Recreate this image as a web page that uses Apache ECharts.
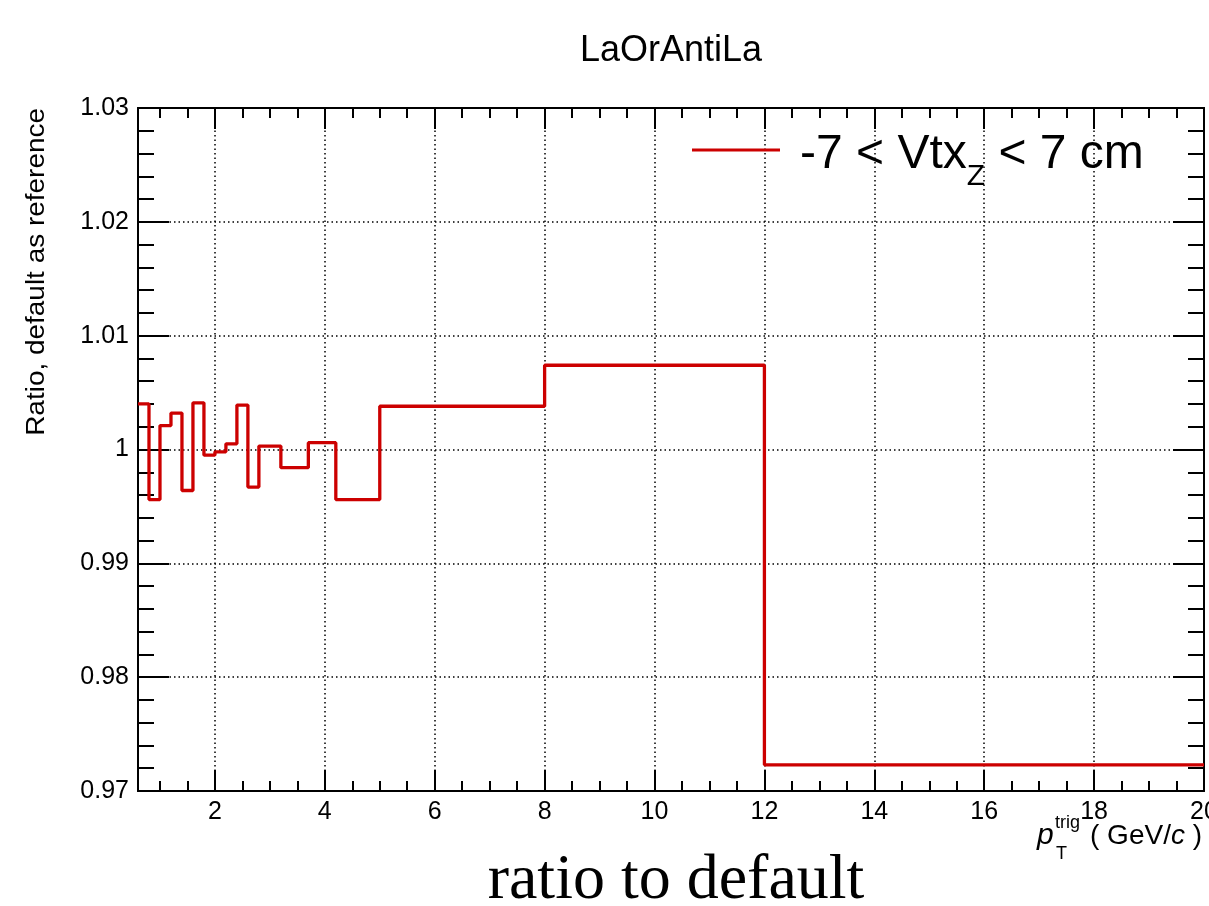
<!DOCTYPE html>
<html>
<head>
<meta charset="utf-8">
<script src="https://cdn.jsdelivr.net/npm/echarts@6/dist/echarts.min.js"></script>
<style>html,body{margin:0;padding:0;background:#fff}#c{width:1209px;height:906px}</style>
</head>
<body>
<div id="c"></div>
<script>
// ---- data ----
var binEdges = [0.6, 0.8, 1.0, 1.2, 1.4, 1.6, 1.8, 2.0, 2.2, 2.4, 2.6, 2.8, 3.2, 3.7, 4.2, 5, 8, 12, 20];
var ratioValues = [1.0040, 0.9956, 1.0021, 1.0032, 0.9964, 1.0041, 0.9995, 0.9998, 1.0005, 1.0039, 0.9967, 1.0003, 0.9984, 1.0006, 0.9956, 1.0038, 1.0074, 0.9723];
var xMajorTicks = [2, 4, 6, 8, 10, 12, 14, 16, 18, 20];
var xMinorStep = 0.5;
var seriesName = '-7 < Vtx_Z < 7 cm';
var chartTitle = 'LaOrAntiLa';
var yTitle = 'Ratio, default as reference';
var footer = 'ratio to default';

// ---- build ----
var stepData = [];
for (var i = 0; i < ratioValues.length; i++) {
  stepData.push([binEdges[i], ratioValues[i]]);
  stepData.push([binEdges[i + 1], ratioValues[i]]);
}
var xMin = binEdges[0], xMax = binEdges[binEdges.length - 1];
var xMinorTicks = [];
for (var t = Math.ceil(xMin / xMinorStep) * xMinorStep; t <= xMax + 1e-9; t += xMinorStep) {
  var r = Math.round(t * 10) / 10;
  if (xMajorTicks.indexOf(r) < 0) xMinorTicks.push(r);
}

var FONT = 'Liberation Sans';
var black = '#000';
function xAx(pos, custom, len, labels, split) {
  return {
    type: 'value', position: pos, min: xMin, max: xMax,
    axisLine: { show: true, onZero: false, lineStyle: { color: black, width: 2 } },
    axisTick: { show: true, inside: true, length: len, customValues: custom, lineStyle: { color: black, width: 2 } },
    axisLabel: { show: labels, customValues: custom, margin: 9, fontFamily: FONT, fontSize: 25, color: black, hideOverlap: false },
    splitLine: { show: split, lineStyle: { color: black, width: 1.5, type: [1.5, 3] } },
    minorTick: { show: false }
  };
}
function yAx(pos, labels, split) {
  return {
    type: 'value', position: pos, min: 0.97, max: 1.03, interval: 0.01,
    axisLine: { show: true, onZero: false, lineStyle: { color: black, width: 2 } },
    axisTick: { show: true, inside: true, length: 31, lineStyle: { color: black, width: 2 } },
    minorTick: { show: true, splitNumber: 5, length: 16, lineStyle: { color: black, width: 2 } },
    axisLabel: { show: labels, margin: 9, fontFamily: FONT, fontSize: 25, color: black },
    splitLine: { show: split, lineStyle: { color: black, width: 1.5, type: [1.5, 3] } }
  };
}

var chart = echarts.init(document.getElementById('c'), null, { renderer: 'canvas' });
chart.setOption({
  backgroundColor: '#fff',
  animation: false,
  grid: { left: 138, top: 108, right: 5, bottom: 115, containLabel: false, outerBoundsMode: 'none' },
  xAxis: [
    xAx('bottom', xMajorTicks, 21, true, true),
    xAx('bottom', xMinorTicks, 10, false, false),
    xAx('top', xMajorTicks, 21, false, false),
    xAx('top', xMinorTicks, 10, false, false)
  ],
  yAxis: [yAx('left', true, true), yAx('right', false, false)],
  legend: {
    left: 692, top: 112, padding: 0,
    icon: 'rect', itemWidth: 88, itemHeight: 3,
    data: [seriesName],
    formatter: function () { return '{a|-7 < Vtx}{sub|Z}{a| < 7 cm}'; },
    textStyle: {
      fontFamily: FONT, color: black,
      rich: {
        a: { fontFamily: FONT, fontSize: 48, lineHeight: 76, verticalAlign: 'top', padding: [19, 0, 0, 0], color: black },
        sub: { fontFamily: FONT, fontSize: 30, lineHeight: 30, verticalAlign: 'top', padding: [50, 0, 0, 0], color: black }
      },
      padding: [0, 0, 0, 15]
    }
  },
  series: [{
    name: seriesName, type: 'line', xAxisIndex: 0, yAxisIndex: 0,
    data: stepData, showSymbol: false, symbol: 'none',
    lineStyle: { color: '#cc0000', width: 3.3 }, itemStyle: { color: '#cc0000' },
    clip: true
  }],
  graphic: [
    { type: 'text', x: 671, y: 51, style: { text: chartTitle, fontFamily: FONT, fontSize: 36, fill: black, align: 'center', verticalAlign: 'middle' } },
    { type: 'text', x: 37, y: 108, rotation: Math.PI / 2, scaleX: 1.075, style: { text: yTitle, fontFamily: FONT, fontSize: 26, fill: black, align: 'right', verticalAlign: 'middle' } },
    { type: 'text', x: 1037, y: 835.5, style: { text: 'p', fontFamily: FONT, fontStyle: 'italic', fontSize: 30, fill: black, align: 'left', verticalAlign: 'middle' } },
    { type: 'text', x: 1055, y: 823, style: { text: 'trig', fontFamily: FONT, fontSize: 18, fill: black, align: 'left', verticalAlign: 'middle' } },
    { type: 'text', x: 1056, y: 854, style: { text: 'T', fontFamily: FONT, fontSize: 18, fill: black, align: 'left', verticalAlign: 'middle' } },
    { type: 'text', x: 1090, y: 836, style: { text: '( GeV/{i|c} )', fontFamily: FONT, fontSize: 28, fill: black, align: 'left', verticalAlign: 'middle',
        rich: { i: { fontFamily: FONT, fontSize: 28, fontStyle: 'italic', fill: black } } } },
    { type: 'text', x: 676, y: 881, style: { text: footer, fontFamily: 'Liberation Serif', fontSize: 64, fill: black, align: 'center', verticalAlign: 'middle' } }
  ]
});
</script>
</body>
</html>
